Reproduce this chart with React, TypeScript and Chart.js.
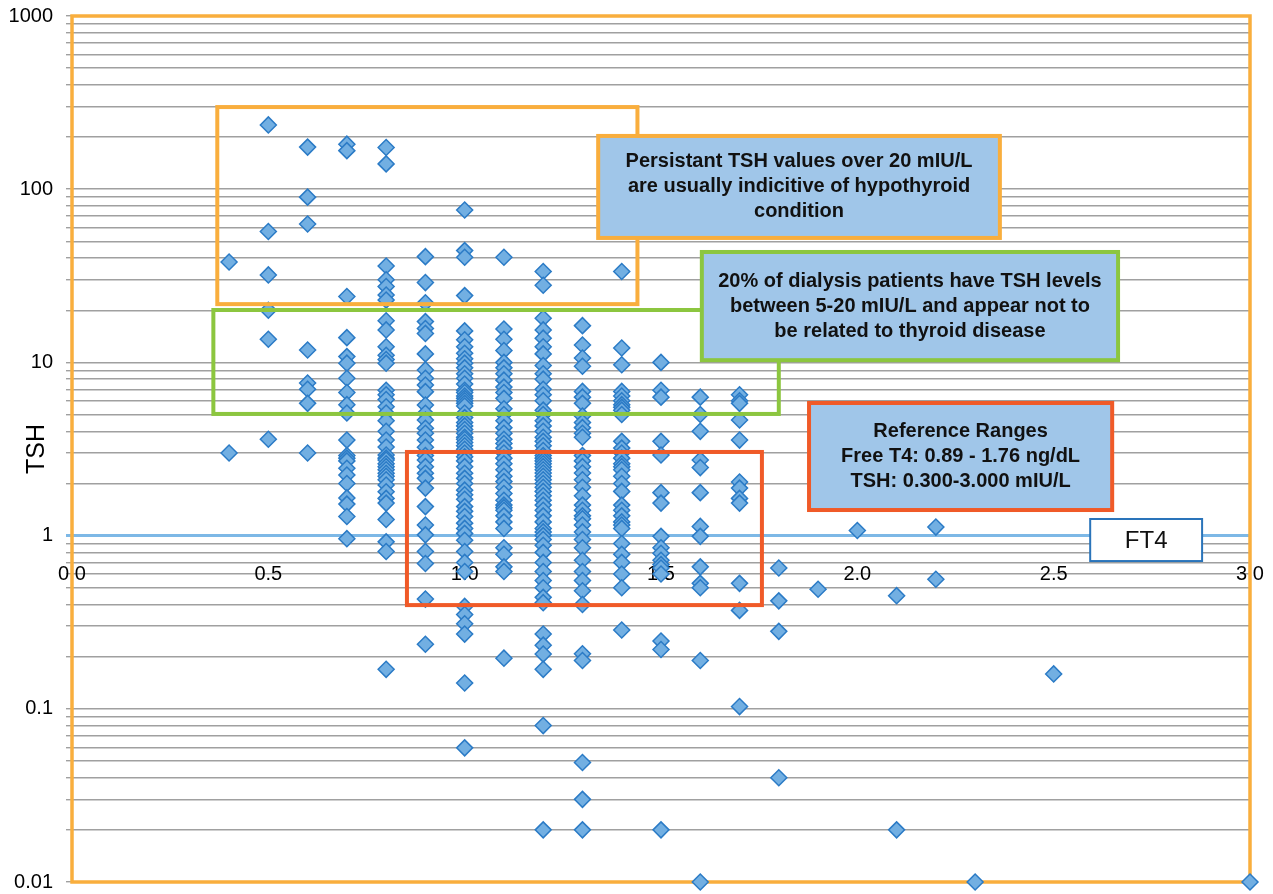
import React, { useEffect, useRef } from "react";
import { Chart, registerables } from "chart.js";

Chart.register(...registerables);

// ---- Data ----
const ft4Levels = [0.4, 0.5, 0.6, 0.7, 0.8, 0.9, 1.0, 1.1, 1.2, 1.3, 1.4, 1.5, 1.6, 1.7, 1.8, 1.9, 2.0, 2.1, 2.2, 2.3, 2.5, 3.0];

const tshAt04 = [38, 3.0];
const tshAt05 = [235, 57, 32, 20, 13.6, 3.6];
const tshAt06 = [175, 90, 63, 11.8, 7.6, 7.0, 5.8, 3.0];
const tshAt07 = [182, 167, 24, 13.9, 10.8, 9.9, 8.1, 6.7, 5.7, 5.1, 3.56, 2.9, 2.8, 2.7, 2.45, 2.24, 2.0, 1.65, 1.52, 1.29, 0.96];
const tshAt08 = [174, 140, 36, 30, 27.4, 24.5, 22.9, 17.4, 15.4, 12.3, 11.0, 10.4, 9.9, 6.9, 6.5, 6.1, 5.55, 5.1, 4.6, 4.0, 3.56, 3.25, 2.92, 2.8, 2.73, 2.6, 2.5, 2.4, 2.29, 2.2, 2.1, 1.96, 1.79, 1.64, 1.54, 1.24, 0.92, 0.81, 0.169];
const tshAt09 = [40.8, 28.9, 22.1, 17.2, 15.7, 14.7, 11.2, 9.05, 8.09, 7.4, 6.78, 5.68, 5.08, 4.65, 4.17, 3.9, 3.56, 3.24, 2.9, 2.73, 2.5, 2.29, 2.14, 1.88, 1.47, 1.15, 1.01, 0.81, 0.69, 0.43, 0.236];
const tshAt10 = [75.9, 44.2, 40.5, 24.3, 15.2, 13.5, 12.3, 11.3, 10.5, 9.9, 9.3, 8.6, 8.1, 7.5, 6.9, 6.7, 6.4, 6.2, 6.0, 5.8, 5.6, 5.1, 4.8, 4.5, 4.3, 4.1, 3.9, 3.7, 3.6, 3.45, 3.3, 3.15, 3.0, 2.85, 2.7, 2.5, 2.29, 2.14, 2.0, 1.83, 1.72, 1.62, 1.47, 1.38, 1.29, 1.18, 1.1, 1.03, 0.94, 0.81, 0.7, 0.62, 0.39, 0.35, 0.31, 0.27, 0.141, 0.0595];
const tshAt11 = [40.5, 15.6, 13.6, 11.7, 10.0, 9.3, 8.6, 7.9, 7.2, 6.7, 6.2, 5.4, 5.0, 4.6, 4.2, 3.9, 3.6, 3.4, 3.2, 3.0, 2.8, 2.6, 2.4, 2.2, 2.05, 1.9, 1.75, 1.6, 1.5, 1.45, 1.4, 1.3, 1.2, 1.1, 0.85, 0.78, 0.66, 0.62, 0.196];
const tshAt12 = [33.5, 27.9, 18, 15.4, 13.8, 12.3, 11.2, 9.6, 8.6, 8.0, 7.0, 6.5, 6.0, 5.3, 5.0, 4.6, 4.3, 4.0, 3.7, 3.5, 3.3, 3.1, 2.9, 2.8, 2.7, 2.6, 2.5, 2.4, 2.3, 2.2, 2.1, 2.0, 1.9, 1.8, 1.7, 1.6, 1.5, 1.4, 1.3, 1.2, 1.1, 1.05, 1.0, 0.95, 0.88, 0.8, 0.7, 0.62, 0.55, 0.5, 0.44, 0.41, 0.27, 0.233, 0.207, 0.169, 0.08, 0.02];
const tshAt13 = [16.3, 12.6, 10.6, 9.5, 6.8, 6.3, 5.8, 4.9, 4.5, 4.2, 3.9, 3.7, 2.9, 2.7, 2.5, 2.3, 2.1, 1.9, 1.7, 1.5, 1.4, 1.3, 1.25, 1.15, 1.05, 0.95, 0.85, 0.72, 0.62, 0.55, 0.48, 0.4, 0.208, 0.19, 0.049, 0.03, 0.02];
const tshAt14 = [33.5, 12.1, 9.7, 6.8, 6.4, 6.0, 5.7, 5.5, 5.3, 5.0, 3.5, 3.2, 3.0, 2.8, 2.6, 2.5, 2.4, 2.2, 2.0, 1.8, 1.5, 1.4, 1.3, 1.2, 1.15, 1.1, 0.9, 0.78, 0.7, 0.6, 0.5, 0.285];
const tshAt15 = [10.0, 6.9, 6.3, 3.5, 2.92, 1.77, 1.54, 0.99, 0.85, 0.79, 0.72, 0.68, 0.65, 0.6, 0.246, 0.22, 0.02];
const tshAt16 = [6.3, 5.0, 4.0, 2.73, 2.47, 1.77, 1.13, 0.99, 0.66, 0.53, 0.5, 0.19, 0.01];
const tshAt17 = [6.5, 6.0, 5.8, 4.65, 3.56, 2.04, 1.88, 1.64, 1.54, 0.53, 0.37, 0.103];
const tshAt18 = [0.65, 0.42, 0.28, 0.04];
const tshAt19 = [0.49];
const tshAt20 = [1.07];
const tshAt21 = [0.45, 0.02];
const tshAt22 = [1.12, 0.56];
const tshAt23 = [0.01];
const tshAt25 = [0.159];
const tshAt30 = [0.01];

const tshByLevel = [tshAt04, tshAt05, tshAt06, tshAt07, tshAt08, tshAt09, tshAt10, tshAt11, tshAt12, tshAt13, tshAt14, tshAt15, tshAt16, tshAt17, tshAt18, tshAt19, tshAt20, tshAt21, tshAt22, tshAt23, tshAt25, tshAt30];

const xTickValues = [0, 0.5, 1.0, 1.5, 2.0, 2.5, 3.0];
const xTickLabels = ["0.0", "0.5", "1.0", "1.5", "2.0", "2.5", "3.0"];
const yDecades = [0.01, 0.1, 1, 10, 100];
const yMultipliers = [1, 2, 3, 4, 5, 6, 7, 8, 9];
const yTickLabels = ["0.01", "0.1", "1", "10", "100", "1000"];

// Annotation regions in data units: [xMin, xMax, yMin, yMax]
const hypoRegion = [0.37, 1.44, 21.7, 298];
const subclinicalRegion = [0.36, 1.8, 5.04, 20.07];
const referenceRegion = [0.853, 1.757, 0.397, 3.04];

const hypoNote = ["Persistant TSH values over 20 mIU/L", "are usually indicitive of hypothyroid", "condition"];
const subclinicalNote = ["20% of dialysis patients have TSH levels", "between 5-20 mIU/L and appear not to", "be related to thyroid disease"];
const referenceNote = ["Reference Ranges", "Free T4: 0.89 - 1.76 ng/dL", "TSH: 0.300-3.000 mIU/L"];
const hypoNoteBox = [1.34, 2.363, 52.3, 203];
const subclinicalNoteBox = [1.604, 2.664, 10.3, 43.4];
const referenceNoteBox = [1.877, 2.649, 1.405, 5.83];
const axisTitleBox = [2.593, 2.878, 0.713, 1.247];
const xAxisTitle = "FT4";
const yAxisTitle = "TSH";

const ORANGE = "#F9AE3D";
const GREEN = "#8CC63F";
const RED = "#F05A28";
const NOTE_FILL = "#A0C6E9";
const FONT = '"Liberation Sans", Arial, Helvetica, sans-serif';

function isDecade(v: number) {
  const l = Math.log10(v);
  return Math.abs(l - Math.round(l)) < 1e-9;
}

function zeroScalePadding(scale: any) {
  scale.paddingTop = 0;
  scale.paddingBottom = 0;
  scale.paddingLeft = 0;
  scale.paddingRight = 0;
}

const annotationPlugin = {
  id: "tshAnnotations",
  beforeDatasetsDraw(chart: any) {
    const { ctx, chartArea } = chart;
    ctx.save();
    ctx.strokeStyle = ORANGE;
    ctx.lineWidth = 3.5;
    ctx.strokeRect(chartArea.left, chartArea.top, chartArea.right - chartArea.left, chartArea.bottom - chartArea.top);
    ctx.restore();
  },
  afterDatasetsDraw(chart: any) {
    const { ctx } = chart;
    const xs = chart.scales.x;
    const ys = chart.scales.y;
    const rectPx = (r: number[]) => {
      const x1 = xs.getPixelForValue(r[0]);
      const x2 = xs.getPixelForValue(r[1]);
      const y1 = ys.getPixelForValue(r[3]);
      const y2 = ys.getPixelForValue(r[2]);
      return [x1, y1, x2 - x1, y2 - y1];
    };
    ctx.save();
    ctx.lineWidth = 4;
    const regions: [number[], string][] = [
      [hypoRegion, ORANGE],
      [subclinicalRegion, GREEN],
      [referenceRegion, RED],
    ];
    regions.forEach(([r, c]) => {
      const [x, y, w, h] = rectPx(r);
      ctx.strokeStyle = c;
      ctx.strokeRect(x, y, w, h);
    });

    const notes: [number[], string, string[]][] = [
      [hypoNoteBox, ORANGE, hypoNote],
      [subclinicalNoteBox, GREEN, subclinicalNote],
      [referenceNoteBox, RED, referenceNote],
    ];
    notes.forEach(([b, c, lines]) => {
      const [x, y, w, h] = rectPx(b);
      ctx.fillStyle = NOTE_FILL;
      ctx.fillRect(x, y, w, h);
      ctx.strokeStyle = c;
      ctx.lineWidth = 4;
      ctx.strokeRect(x, y, w, h);
      ctx.fillStyle = "#111";
      ctx.font = "bold 20px " + FONT;
      ctx.textAlign = "center";
      ctx.textBaseline = "middle";
      const lh = 25;
      const cx = x + w / 2;
      const cy = y + h / 2;
      lines.forEach((t, i) => {
        ctx.fillText(t, cx, cy + (i - (lines.length - 1) / 2) * lh);
      });
    });

    const [ax, ay, aw, ah] = rectPx(axisTitleBox);
    ctx.fillStyle = "#fff";
    ctx.fillRect(ax, ay, aw, ah);
    ctx.strokeStyle = "#2A74BA";
    ctx.lineWidth = 2;
    ctx.strokeRect(ax, ay, aw, ah);
    ctx.fillStyle = "#111";
    ctx.font = "24px " + FONT;
    ctx.textAlign = "center";
    ctx.textBaseline = "middle";
    ctx.fillText(xAxisTitle, ax + aw / 2, ay + ah / 2 + 1);
    ctx.restore();
  },
};

export default function App() {
  const canvasRef = useRef<HTMLCanvasElement | null>(null);

  useEffect(() => {
    const canvas = canvasRef.current;
    if (!canvas) return;
    const points: { x: number; y: number }[] = [];
    ft4Levels.forEach((ft4, i) => {
      tshByLevel[i].forEach((tsh) => points.push({ x: ft4, y: tsh }));
    });
    const yGridValues: number[] = [];
    yDecades.forEach((d) => yMultipliers.forEach((m) => yGridValues.push(+(d * m).toPrecision(3))));
    yGridValues.push(1000);

    const chart = new Chart(canvas, {
      type: "scatter",
      data: {
        datasets: [
          {
            data: points,
            pointStyle: "rectRot",
            pointRadius: 8,
            pointHoverRadius: 8,
            backgroundColor: "#72AFE2",
            borderColor: "#2B7BC6",
            borderWidth: 1.5,
            clip: false as any,
          },
        ],
      },
      options: {
        animation: false,
        responsive: false,
        events: [],
        layout: { autoPadding: false, padding: { left: 0, top: 16, right: 23, bottom: 12 } },
        plugins: { legend: { display: false }, tooltip: { enabled: false } },
        scales: {
          y: {
            type: "logarithmic",
            min: 0.01,
            max: 1000,
            afterBuildTicks: (scale: any) => {
              scale.ticks = yGridValues.map((v) => ({ value: v, major: isDecade(v) }));
            },
            afterFit: (scale: any) => {
              scale.width = 72;
              zeroScalePadding(scale);
            },
            ticks: {
              autoSkip: false,
              padding: 13,
              color: "#000",
              font: { family: FONT, size: 20 },
              callback: (value: any) => {
                const v = Number(value);
                if (!isDecade(v)) return "";
                const idx = Math.round(Math.log10(v)) + 2;
                return yTickLabels[idx];
              },
            },
            grid: {
              color: (c: any) => (c.tick && Math.abs(c.tick.value - 1) < 1e-9 ? "#7DB8E6" : "#A0A0A0"),
              lineWidth: (c: any) => (c.tick && Math.abs(c.tick.value - 1) < 1e-9 ? 3 : 1.4),
              tickLength: 6,
            },
            border: { display: false },
            title: {
              display: true,
              text: yAxisTitle,
              color: "#000",
              font: { family: FONT, size: 25 },
              padding: { top: 22, bottom: 0 },
            },
          },
          x: {
            type: "linear",
            min: 0,
            max: 3,
            position: { y: 1 } as any,
            afterBuildTicks: (scale: any) => {
              scale.ticks = xTickValues.map((v) => ({ value: v }));
            },
            afterFit: (scale: any) => {
              zeroScalePadding(scale);
            },
            ticks: {
              autoSkip: false,
              maxRotation: 0,
              padding: 27,
              color: "#000",
              font: { family: FONT, size: 20 },
              callback: (_v: any, i: number) => xTickLabels[i],
            },
            grid: { display: false, drawTicks: false, tickLength: 0 },
            border: { display: true, color: "#7DB8E6", width: 3 },
          },
        },
      },
      plugins: [annotationPlugin],
    } as any);
    return () => chart.destroy();
  }, []);

  return (
    <canvas
      ref={canvasRef}
      width={1273}
      height={894}
      style={{ position: "fixed", left: 0, top: 0, width: 1273, height: 894, display: "block", background: "#fff" }}
    />
  );
}
